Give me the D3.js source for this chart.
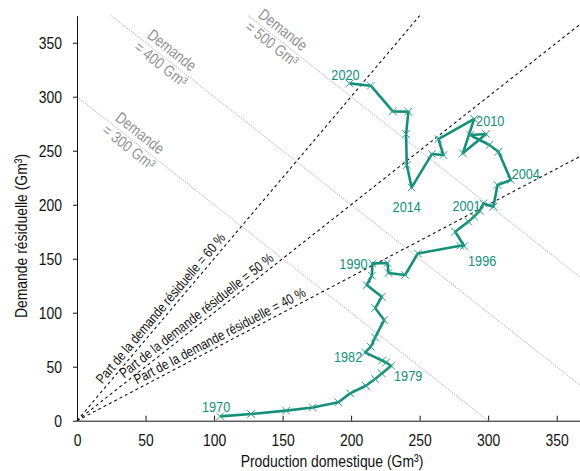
<!DOCTYPE html>
<html><head><meta charset="utf-8">
<script src="https://cdn.jsdelivr.net/npm/d3@7"></script>
<style>
html,body{margin:0;padding:0;background:#fff;}
svg{display:block;}
text{font-family:"Liberation Sans",Arial,sans-serif;}
</style></head>
<body>
<svg id="chart" width="580" height="471"></svg>
<script>
// ---- data ----
const years = [1970,1971,1972,1973,1974,1975,1976,1977,1978,1979,
  1980,1981,1982,1983,1984,1985,1986,1987,1988,1989,1990,
  1991,1992,1993,1994,1995,1996,1997,1998,1999,2000,2001,
  2002,2003,2004,2005,2006,2007,2008,2009,2010,
  2011,2012,2013,2014,2015,2016,2017,2018,2019,2020];
const production = [104.4,127,152.6,172,190.7,199.3,210.7,217.5,222.4,229.2,
  225.5,222.6,210.2,214.4,217.5,224.1,217.5,222.4,211.4,215.1,215.6,
  226.5,227.3,239.4,248.7,279.6,282.5,275.9,285.6,289.7,293.8,296.6,
  303.8,306.8,316.5,307.5,300.9,286.9,298.5,281.5,289.8,
  263.7,267.4,258.9,244.2,240.6,240.1,241.8,230.4,214.4,198.8];
const residualDemand = [4.0,6.2,9.3,12.3,17,25.3,32.4,38.6,43.8,50.9,
  53.9,55.7,63.2,68.5,77.1,93.2,104.3,114.8,125.6,134.3,145.7,
  146,136.8,134.9,154.9,162,161.8,175,184.3,189,194.2,201.2,
  198.1,218.2,222.9,249.1,255.3,264.5,265.5,247.6,279.4,
  260.8,246,246.9,216,236.7,265.4,286.1,286.4,310.2,312.3];
const labelledYears = [1970,1979,1982,1990,1996,2001,2004,2010,2014,2020];
const demandLevels = [300,400,500];
const residualShares = [60,50,40];
const tickValues = [0,50,100,150,200,250,300,350];
const xTitle = "Production domestique (Gm³)";
const yTitle = "Demande résiduelle (Gm³)";

// ---- layout / style ----
const teal = "#168f7a";
const SX = 0.82; // horizontal condensing (narrow face)
const labelOffsets = {1970:[-4,-10],1979:[17,10],1982:[-17,4],1990:[-19,0],1996:[18,15],
  2001:[-17,2],2004:[15,-6],2010:[16,2],2014:[-5,19],2020:[-4,-9]};
const demandLabelPos = {300:72, 400:69, 500:36}; // px along the line from its start
const shareLabelPos = {60:44, 50:63, 40:70};

const svg = d3.select("#chart");
const xMax = 367, yMax = 375;
const x = d3.scaleLinear().domain([0,xMax]).range([77,580]);
const y = d3.scaleLinear().domain([0,yMax]).range([420.7,15.7]);

function ntext(parent, tx, ty, rot, str, size, fill, anchor, baseline){
  const t = parent.append("text")
    .attr("transform",`translate(${tx},${ty}) rotate(${rot||0}) scale(${SX},1)`)
    .attr("font-size",size).attr("fill",fill).attr("text-anchor",anchor||"start").text(str);
  if (baseline) t.attr("dominant-baseline",baseline);
  return t;
}

const plot = svg.append("g");

// demand iso-lines
demandLevels.forEach(D => {
  const p0 = [Math.max(0,D-yMax), Math.min(D,yMax)];
  const p1 = [Math.min(D,xMax), Math.max(0,D-xMax)];
  plot.append("line")
    .attr("x1",x(p0[0])).attr("y1",y(p0[1])).attr("x2",x(p1[0])).attr("y2",y(p1[1]))
    .attr("stroke","#b4b4b4").attr("stroke-width",1).attr("stroke-dasharray","1.5,1");
  const ang = Math.atan2(y(p1[1])-y(p0[1]), x(p1[0])-x(p0[0]));
  const d = demandLabelPos[D];
  const cx = x(p0[0]) + d*Math.cos(ang), cy = y(p0[1]) + d*Math.sin(ang);
  const g = plot.append("g").attr("transform",`translate(${cx},${cy}) rotate(${ang*180/Math.PI})`);
  ntext(g, 0, -5, 0, "Demande", 16, "#939393", "middle");
  ntext(g, 0, 13, 0, `= ${D} Gm³`, 16, "#939393", "middle");
});

// residual share lines
residualShares.forEach(s => {
  const k = s/(100-s);
  const xe = Math.min(xMax, yMax/k);
  plot.append("line")
    .attr("x1",x(0)).attr("y1",y(0)).attr("x2",x(xe)).attr("y2",y(k*xe))
    .attr("stroke","#111").attr("stroke-width",1.1).attr("stroke-dasharray","3,3");
  const ang = Math.atan2(y(k*xe)-y(0), x(xe)-x(0));
  const g = plot.append("g").attr("transform",`translate(${x(0)},${y(0)}) rotate(${ang*180/Math.PI})`);
  ntext(g, shareLabelPos[s], -4, 0, `Part de la demande résiduelle = ${s} %`, 14, "#111");
});

// axes
const xAxis = d3.axisBottom(x).tickValues(tickValues).tickSizeInner(-5).tickSizeOuter(0).tickPadding(11);
const gx = svg.append("g").attr("transform",`translate(0,${y(0)})`).call(xAxis);
gx.selectAll("text").attr("font-size",17).attr("fill","#111").attr("dy","0.85em")
  .attr("transform",`scale(${SX},1)`);
const yAxis = d3.axisLeft(y).tickValues(tickValues).tickSizeInner(4).tickSizeOuter(0).tickPadding(11);
const gy = svg.append("g").attr("transform",`translate(${x(0)},0)`).call(yAxis);
gy.selectAll("text").attr("font-size",17).attr("fill","#111")
  .attr("x",-15/SX).attr("transform",`scale(${SX},1)`);
[gx,gy].forEach(g=>{g.select(".domain").attr("stroke","#111"); g.selectAll(".tick line").attr("stroke","#111");});

ntext(svg, 332, 467, 0, xTitle, 17, "#111", "middle");
ntext(svg, 27, 236, -90, yTitle, 17, "#111", "middle");

// series
const pts = years.map((yr,i)=>({year:yr, p:production[i], r:residualDemand[i]}));
const line = d3.line().x(d=>x(d.p)).y(d=>y(d.r));
svg.append("path").datum(pts).attr("d",line).attr("fill","none")
  .attr("stroke",teal).attr("stroke-width",2.6).attr("stroke-linejoin","round");
const m = 3.8;
svg.append("g").selectAll("path").data(pts).join("path")
  .attr("d",d=>`M${x(d.p)-m},${y(d.r)-m}L${x(d.p)+m},${y(d.r)+m}M${x(d.p)-m},${y(d.r)+m}L${x(d.p)+m},${y(d.r)-m}`)
  .attr("stroke","#2aa08a").attr("stroke-width",1).attr("fill","none");
const lg = svg.append("g");
pts.filter(d=>labelledYears.includes(d.year)).forEach(d=>{
  ntext(lg, x(d.p)+labelOffsets[d.year][0], y(d.r)+labelOffsets[d.year][1], 0,
    String(d.year), 15.5, teal, "middle", "central");
});
</script>
</body></html>
